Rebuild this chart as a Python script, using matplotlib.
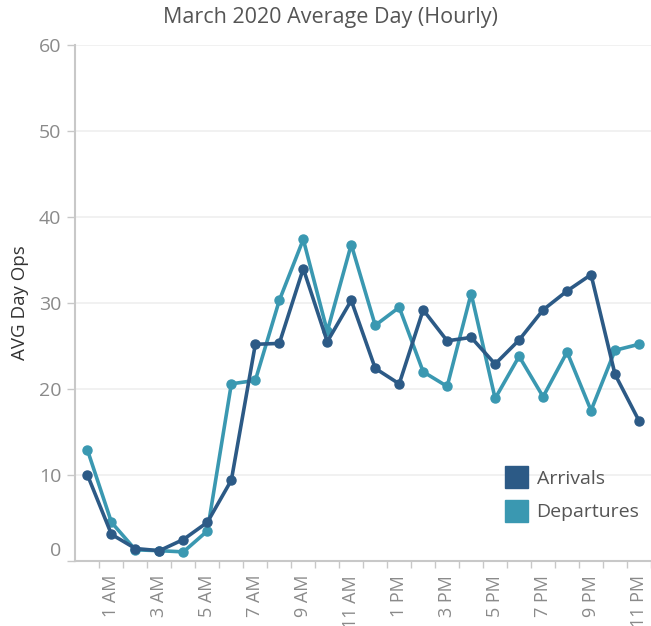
import matplotlib
matplotlib.use("Agg")
import matplotlib.pyplot as plt
import matplotlib.transforms as mtransforms
from matplotlib.patches import Patch

hours = list(range(24))
hour_labels = ["12 AM", "1 AM", "2 AM", "3 AM", "4 AM", "5 AM", "6 AM", "7 AM", "8 AM", "9 AM",
               "10 AM", "11 AM", "12 PM", "1 PM", "2 PM", "3 PM", "4 PM", "5 PM", "6 PM", "7 PM",
               "8 PM", "9 PM", "10 PM", "11 PM"]
arrivals = [10.0, 3.1, 1.45, 1.2, 2.5, 4.5, 9.4, 25.2, 25.3, 34.0, 25.5, 30.3,
            22.4, 20.6, 29.2, 25.6, 26.0, 22.9, 25.7, 29.2, 31.4, 33.3, 21.7, 16.3]
departures = [12.9, 4.5, 1.3, 1.2, 1.06, 3.5, 20.6, 21.0, 30.3, 37.4, 26.7, 36.8,
              27.4, 29.5, 22.0, 20.3, 31.1, 18.9, 23.8, 19.1, 24.3, 17.5, 24.5, 25.2]
y_ticks = [0, 10, 20, 30, 40, 50, 60]

c_arr = "#2c5a86"
c_dep = "#3a98b1"

plt.rcParams['font.family'] = ['Open Sans', 'DejaVu Sans']

fig = plt.figure(figsize=(6.51, 6.26), dpi=100)
ax = fig.add_axes([75/651, 65/626, 1 - 75/651, (561 - 45)/626])

ax.plot(hours, arrivals, color=c_arr, lw=2.6, marker='o', ms=6.5, zorder=3, solid_joinstyle='round')
ax.plot(hours, departures, color=c_dep, lw=2.6, marker='o', ms=6.5, zorder=2, solid_joinstyle='round')

ax.set_xlim(-0.52, 23.33)
ax.set_ylim(0, 60)

ax.set_yticks(y_ticks)
ax.set_yticklabels([str(v) for v in y_ticks])
ax.grid(axis='y', color='#efefef', lw=1.2, zorder=0)
ax.tick_params(axis='y', colors='#c8c8c8', labelcolor='#8a8a8a', labelsize=14, length=6, width=1, pad=4)

# x ticks: band boundaries as marks, labels at odd hours
ax.set_xticks([h + 0.5 for h in hours], minor=True)
ax.set_xticks(hours[1::2])
ax.set_xticklabels(hour_labels[1::2], rotation=90, va='top', ha='center')
ax.tick_params(axis='x', which='major', length=0, labelcolor='#8a8a8a', labelsize=13, pad=10)
ax.tick_params(axis='x', which='minor', length=5, width=1, color='#c8c8c8')

for s in ['top', 'right']:
    ax.spines[s].set_visible(False)
for s in ['left', 'bottom']:
    ax.spines[s].set_color('#c8c8c8')
    ax.spines[s].set_linewidth(1.5)

# shift the "0" label upwards, as in the reference
for lbl in ax.get_yticklabels():
    if lbl.get_text() == '0':
        lbl.set_transform(lbl.get_transform() + mtransforms.ScaledTranslation(0, 12/100, fig.dpi_scale_trans))

ax.set_ylabel("AVG Day Ops", color='#333333', fontsize=13.5, labelpad=7)
fig.text(330/651, 1 - 17/626, "March 2020 Average Day (Hourly)", ha='center', va='center',
         color='#555555', fontsize=15.5)

handles = [Patch(color=c_arr, label='Arrivals'), Patch(color=c_dep, label='Departures')]
leg = ax.legend(handles=handles, loc='lower left', bbox_to_anchor=(487/651, 87/626),
                bbox_transform=fig.transFigure, frameon=False, fontsize=14,
                handlelength=1.2, handleheight=1.3, handletextpad=0.45, labelspacing=0.65)
for t in leg.get_texts():
    t.set_color('#555555')

fig.savefig("out.png", dpi=100)
